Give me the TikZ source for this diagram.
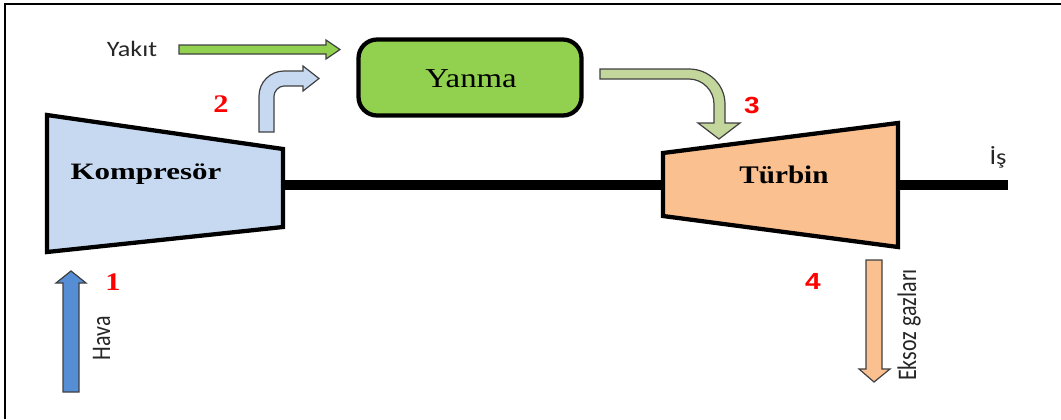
\documentclass[tikz,border=0pt]{standalone}
\usepackage{fontspec}
\setmainfont{Liberation Serif}
\newfontfamily\calfont{Carlito}
\newfontfamily\arialfont{Liberation Sans}
\definecolor{kompfill}{HTML}{C6D9F1}
\definecolor{turbfill}{HTML}{FAC090}
\definecolor{yanmafill}{HTML}{92D050}
\definecolor{sicakfill}{HTML}{C3D69B}
\definecolor{havafill}{HTML}{558ED5}
\definecolor{kenar}{HTML}{404040}
\begin{document}
\begin{tikzpicture}[x=0.75pt,y=-0.75pt,
  makine/.style={draw=black,line width=3.2pt,line join=miter},
  blok/.style={draw=kenar,line width=0.9pt,line join=miter},
  etiket/.style={inner sep=0pt,font=\calfont\fontsize{16.5}{18}\selectfont,text=black!85},
  durum/.style={inner sep=0pt,text=red,xscale=1.2},
  baslik/.style={inner sep=0pt,text=black}]
\useasboundingbox (0,0) rectangle (1061,419);

% frame (top and left edges)
\draw[line width=1.1pt] (5,419) -- (5,4) -- (1061,4);

% shaft
\coordinate (milA) at (283,185);
\coordinate (milB) at (1008,185);
\draw[line width=8.2pt] (milA) -- (milB);

% compressor and turbine
\draw[makine,fill=kompfill] (47,115) -- (283,149) -- (283,227) -- (47,252) -- cycle;
\draw[makine,fill=turbfill] (663,153) -- (898,123) -- (898,247) -- (663,216) -- cycle;
\node[baslik,font=\bfseries\fontsize{17.6}{20}\selectfont,xscale=1.32] (komp) at (146,174) {Kompresör};
\node[baslik,font=\bfseries\fontsize{19}{22}\selectfont,xscale=1.15] (turb) at (784,175) {Türbin};

% combustion chamber
\node[draw=black,line width=3.2pt,fill=yanmafill,rounded corners=14pt,
      minimum width=223pt*0.75,minimum height=76pt*0.75] (yanma) at (470,77.5) {};
\node[baslik,font=\fontsize{20.5}{22}\selectfont,xscale=1.2] (yanmayazi) at (471,79) {Yanma};

% fuel arrow
\draw[blok,fill=yanmafill] (179,45) -- (326,45) -- (326,40) -- (340,49.5) -- (326,59) -- (326,54) -- (179,54) -- cycle;
\node[etiket,xscale=1.19] (yakit) at (132,49) {Yakıt};

% compressed air to the chamber
\draw[blok,fill=kompfill] (259,132) -- (259,96) .. controls (259,82.2) and (270.2,71) .. (284,71)
  -- (303,71) -- (303,66) -- (319,78.5) -- (303,91) -- (303,86) -- (284,86)
  .. controls (278.5,86) and (274,91.5) .. (274,96) -- (274,132) -- cycle;

% hot gas to the turbine
\draw[blok,fill=sicakfill] (600,69) -- (689,69) .. controls (708.6,69) and (725,84.4) .. (725,104)
  -- (725,123) -- (740,123) -- (719,139) -- (698,123) -- (714,123) -- (714,104)
  .. controls (714,90.5) and (702.5,79) .. (689,79) -- (600,79) -- cycle;

% air inlet
\draw[blok,fill=havafill] (63,392) -- (63,283) -- (56,283) -- (71,271) -- (86,283) -- (79,283) -- (79,392) -- cycle;
\node[etiket,rotate=90,yscale=1.22] (hava) at (101.5,338) {Hava};

% exhaust
\draw[blok,fill=turbfill] (866,260) -- (882,260) -- (882,369) -- (890,369) -- (874,382) -- (859,369) -- (866,369) -- cycle;
\node[etiket,rotate=90,yscale=1.22] (eksoz) at (909,325) {Eksoz gazları};

% work output
\node[etiket,xscale=1.2] (is) at (998,157) {İş};

% state points
\node[durum,font=\bfseries\fontsize{19}{20}\selectfont] (s1) at (113,282) {1};
\node[durum,font=\bfseries\fontsize{19}{20}\selectfont] (s2) at (221,104) {2};
\node[durum,font=\arialfont\bfseries\fontsize{17.5}{20}\selectfont,xscale=1.0] (s3) at (752,105) {3};
\node[durum,font=\arialfont\bfseries\fontsize{17.5}{20}\selectfont,xscale=1.0] (s4) at (813,281) {4};
\end{tikzpicture}
\end{document}
